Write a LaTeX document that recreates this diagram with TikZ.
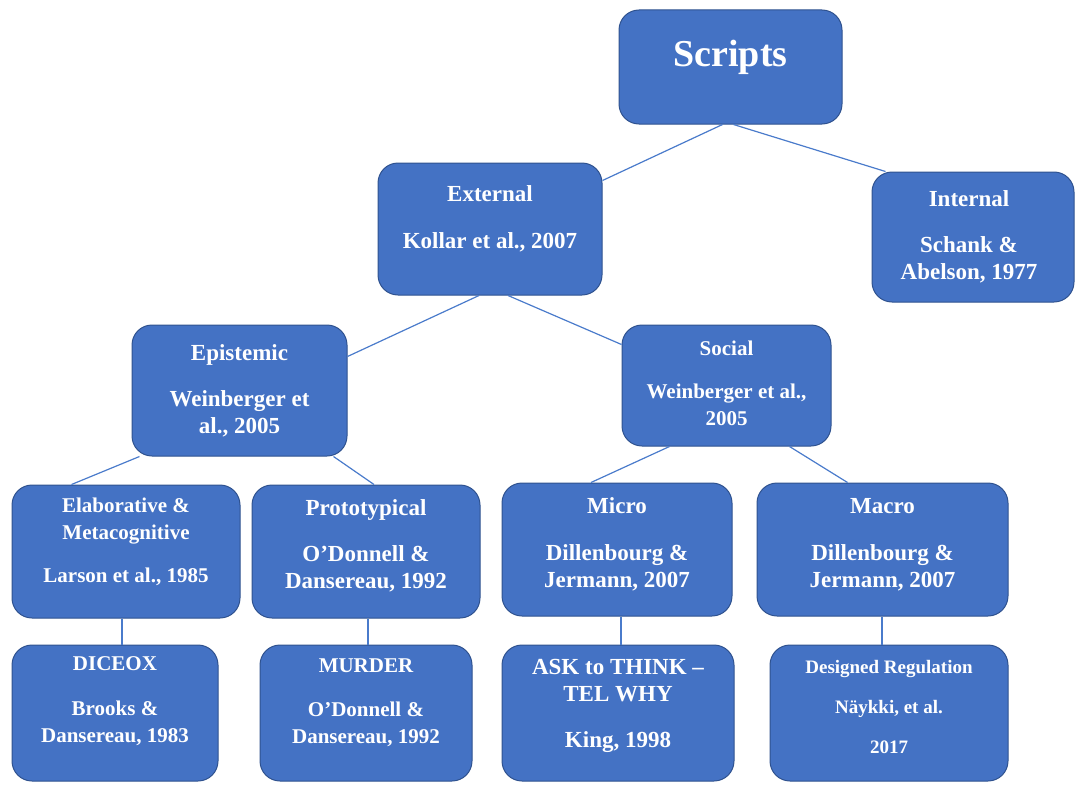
\documentclass[tikz,border=0pt]{standalone}
\usepackage{fontspec}
\setmainfont{Liberation Serif}
\definecolor{boxFill}{HTML}{4472C4}
\definecolor{boxBorder}{HTML}{2F528F}
\definecolor{linkBlue}{HTML}{4A7BCB}
\tikzset{%
	% Specifications for style of nodes:
	base/.style = {rectangle, rounded corners=20pt, draw=boxBorder,
		fill=boxFill, line width=1pt, inner sep=0pt},
	boxText/.style = {text=white, align=center, inner sep=0pt,
		font=\bfseries\fontsize{23}{27}\selectfont},
	smallText/.style = {boxText, font=\bfseries\fontsize{21}{27}\selectfont},
	link/.style = {draw=linkBlue, line width=1.2pt}
}

\begin{document}
\begin{tikzpicture}[x=1pt, y=-1pt]
		\useasboundingbox (0,0) rectangle (1075,784);
		% boxes
		\node (scripts) [base, minimum width=223pt, minimum height=114pt] at (730.5,67) {};
		\node (internal) [base, minimum width=202pt, minimum height=130pt] at (973,237) {};
		\node (external) [base, minimum width=224pt, minimum height=132pt] at (490,229) {};
		\node (epistemic) [base, minimum width=215pt, minimum height=131pt] at (239.5,390.5) {};
		\node (social) [base, minimum width=209pt, minimum height=121pt] at (726.5,385.5) {};
		\node (elab) [base, minimum width=228pt, minimum height=133pt] at (126,551.5) {};
		\node (proto) [base, minimum width=228pt, minimum height=133pt] at (366,551.5) {};
		\node (micro) [base, minimum width=230pt, minimum height=133pt] at (617,549.5) {};
		\node (macro) [base, minimum width=251pt, minimum height=133pt] at (882.5,549.5) {};
		\node (diceox) [base, minimum width=206pt, minimum height=136pt] at (115,713) {};
		\node (murder) [base, minimum width=212pt, minimum height=136pt] at (366,713) {};
		\node (ask) [base, minimum width=232pt, minimum height=136pt] at (618,713) {};
		\node (designed) [base, minimum width=238pt, minimum height=136pt] at (889,713) {};
		% texts
		\node (scriptsText) [boxText, font=\bfseries\fontsize{38}{44}\selectfont] at ([yshift=10pt]scripts.center) {Scripts};
		\node (internalText) [boxText] at ([xshift=-4pt]internal.center) {Internal\\[19pt]Schank \&\\Abelson, 1977};
		\node (externalText) [boxText] at ([yshift=10.5pt]external.center) {External\\[20pt]Kollar et al., 2007};
		\node (epistemicText) [boxText] at (epistemic.center) {Epistemic\\[19pt]Weinberger et\\al., 2005};
		\node (socialText) [smallText] at ([yshift=2pt]social.center) {Social\\[16pt]Weinberger et al.,\\2005};
		\node (elabText) [smallText] at ([yshift=9.5pt]elab.center) {Elaborative \&\\Metacognitive\\[16pt]Larson et al., 1985};
		\node (protoText) [boxText] at ([yshift=6pt]proto.center) {Prototypical\\[19pt]O'Donnell \&\\Dansereau, 1992};
		\node (microText) [boxText] at ([yshift=5pt]micro.center) {Micro\\[20pt]Dillenbourg \&\\Jermann, 2007};
		\node (macroText) [boxText] at ([yshift=5pt]macro.center) {Macro\\[20pt]Dillenbourg \&\\Jermann, 2007};
		\node (diceoxText) [smallText] at ([yshift=12pt]diceox.center) {DICEOX\\[18pt]Brooks \&\\Dansereau, 1983};
		\node (murderText) [smallText] at ([yshift=10pt]murder.center) {MURDER\\[17pt]O'Donnell \&\\Dansereau, 1992};
		\node (askText) [boxText] at ([yshift=7.5pt]ask.center) {ASK to THINK --\\TEL WHY\\[19pt]King, 1998};
		\node (designedText) [boxText, font=\bfseries\fontsize{19}{22}\selectfont] at ([yshift=6pt]designed.center) {Designed Regulation\\[18pt]Näykki, et al.\\[18pt]2017};
		% connectors
		\draw[link] ([xshift=-8pt]scripts.south) -- ([yshift=-18pt]external.north east);
		\draw[link] ([xshift=3pt]scripts.south) -- ([xshift=14pt]internal.north west);
		\draw[link] ([xshift=-11pt]external.south) -- ([yshift=-32pt]epistemic.north east);
		\draw[link] ([xshift=18pt]external.south) -- ([yshift=-20pt]social.north west);
		\draw[link] ([xshift=8pt]epistemic.south west) -- ([xshift=60pt]elab.north west);
		\draw[link] ([xshift=-14pt]epistemic.south east) -- ([xshift=8pt]proto.north);
		\draw[link] ([xshift=-57pt]social.south) -- ([xshift=-26pt]micro.north);
		\draw[link] ([xshift=63pt]social.south) -- ([xshift=-35pt]macro.north);
		\draw[link] ([xshift=-4pt]elab.south) -- ([xshift=7pt]diceox.north);
		\draw[link] ([xshift=2pt]proto.south) -- ([xshift=2pt]murder.north);
		\draw[link] ([xshift=4pt]micro.south) -- ([xshift=3pt]ask.north);
		\draw[link] ([xshift=-0.5pt]macro.south) -- ([xshift=-7pt]designed.north);
	\end{tikzpicture}
\end{document}
